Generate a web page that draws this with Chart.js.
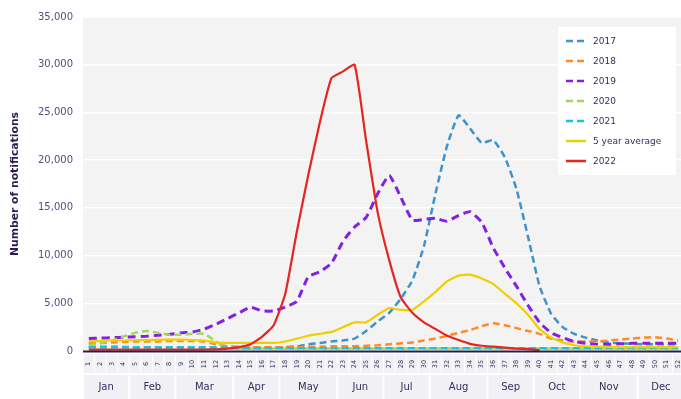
<!DOCTYPE html>
<html><head><meta charset="utf-8">
<script src="https://cdn.jsdelivr.net/npm/chart.js@4.4.0/dist/chart.umd.min.js"></script>
<style>
html,body{margin:0;padding:0;overflow:hidden;background:#fff;width:681px;height:399px}
#wrap{position:relative;width:684px;height:399px}
</style></head><body><div id="wrap"><canvas id="c" width="684" height="399"></canvas></div>
<script>
const weeks = ["1","2","3","4","5","6","7","8","9","10","11","12","13","14","15","16","17","18","19","20","21","22","23","24","25","26","27","28","29","30","31","32","33","34","35","36","37","38","39","40","41","42","43","44","45","46","47","48","49","50","51","52"];
const months = ["Jan","Feb","Mar","Apr","May","Jun","Jul","Aug","Sep","Oct","Nov","Dec"];
const monthFirstWeek = [1,5,9,14,18,23,27,31,36,40,44,49];
const monthLastWeek  = [4,8,13,17,22,26,30,35,39,43,48,52];
const yTicks = [0,5000,10000,15000,20000,25000,30000,35000];

const s2017 = [450,450,450,420,400,400,380,380,380,370,360,350,330,320,320,330,350,400,500,700,850,1000,1100,1300,2100,3100,4000,5500,7400,11000,16500,21500,24700,23300,21800,22100,20300,17000,12000,6800,3900,2500,1800,1400,1100,900,800,750,700,700,700,700];
const s2018 = [800,850,900,950,1000,1000,1000,1050,1050,1050,1000,700,500,450,400,400,400,400,400,450,450,500,500,500,550,600,700,800,900,1100,1300,1600,1900,2200,2600,2900,2700,2400,2100,1800,1300,1100,1000,1000,1000,1100,1200,1300,1400,1450,1300,1100];
const s2019 = [1300,1350,1400,1450,1500,1550,1650,1750,1900,2000,2300,2800,3400,4000,4600,4200,4200,4600,5200,7800,8300,9200,11500,13000,14000,16500,18400,16100,13700,13800,13900,13600,14200,14600,13500,10800,8700,6800,4800,3000,1900,1400,1000,800,700,700,750,800,800,800,800,800];
const s2020 = [600,800,1100,1500,1900,2100,1900,1700,1700,1800,1800,1000,300,250,250,250,250,250,250,250,250,250,250,250,250,250,250,250,250,250,250,250,250,250,250,250,250,250,250,250,250,250,250,250,250,250,250,250,250,250,250,250];
const s2021 = [400,400,400,400,400,400,400,400,400,400,400,400,350,300,300,300,300,300,300,300,300,300,300,300,300,300,300,300,300,300,300,300,300,300,300,300,300,300,300,300,300,300,300,300,300,300,300,300,300,300,300,300];
const s5yr  = [1000,1050,1100,1100,1150,1150,1200,1200,1200,1150,1100,900,850,850,850,850,850,1000,1300,1600,1800,2000,2500,3000,3000,3800,4500,4300,4300,5200,6200,7300,7900,8000,7600,7000,6000,5000,3800,2300,1400,900,600,500,450,400,400,400,400,400,400,400];
const s2022 = [150,150,150,150,150,150,150,150,150,150,150,180,250,400,700,1500,2700,6000,12500,18500,24000,28600,29300,30000,22000,14500,9500,5600,4000,3000,2300,1600,1150,750,550,450,350,250,200,100,null,null,null,null,null,null,null,null,null,null,null,null];

const seriesNames = ["2017","2018","2019","2020","2021","5 year average","2022"];
const seriesColors = ["#3f93cc","#ff8a2a","#8420e3","#a4d65a","#14c6d6","#efcf00","#e52520"];
const seriesData = [s2017,s2018,s2019,s2020,s2021,s5yr,s2022];
const seriesDashed = [true,true,true,true,true,false,false];

const textColor = "#3a2b5e";
const FONT = "'DejaVu Sans', sans-serif";

const datasets = seriesNames.map((n,i)=>({
  label:n, data:seriesData[i], borderColor:seriesColors[i], backgroundColor:seriesColors[i],
  borderWidth: i===2 ? 3 : (seriesDashed[i] ? 2.5 : 2.2),
  borderDash: seriesDashed[i] ? (i===2 ? [8,5] : [7,4]) : [],
  pointRadius:0, tension:0.15, fill:false, spanGaps:false,
  order: 6-i
}));

const deco = {
  id:'deco',
  beforeDraw(chart){
    const {ctx, chartArea:a} = chart;
    const x = chart.scales.x;
    ctx.save();
    ctx.fillStyle = '#f3f3f3';
    ctx.fillRect(a.left, a.top, a.right-a.left, a.bottom-a.top);
    const step = x.getPixelForValue(1) - x.getPixelForValue(0);
    ctx.fillStyle = '#f1f0f4';
    for (let i=0;i<weeks.length;i++){
      const cx = x.getPixelForValue(i);
      ctx.fillRect(cx-step/2+0.5, a.bottom+3, step-1, 19);
    }
    for (let m=0;m<months.length;m++){
      const l = x.getPixelForValue(monthFirstWeek[m]-1) - step/2;
      const r = x.getPixelForValue(monthLastWeek[m]-1) + step/2;
      ctx.fillRect(l+1, a.bottom+24, r-l-2, 30);
    }
    ctx.restore();
  },
  afterDatasetsDraw(chart){
    const {ctx, chartArea:a} = chart;
    const x = chart.scales.x;
    ctx.save();
    ctx.strokeStyle = '#2a1a4d';
    ctx.lineWidth = 2;
    ctx.beginPath(); ctx.moveTo(a.left, a.bottom+0.5); ctx.lineTo(a.right, a.bottom+0.5); ctx.stroke();
    ctx.fillStyle = textColor;
    ctx.font = "6.5px " + FONT;
    ctx.textAlign = 'center'; ctx.textBaseline = 'middle';
    for (let i=0;i<weeks.length;i++){
      const cx = x.getPixelForValue(i);
      ctx.save(); ctx.translate(cx, a.bottom+13); ctx.rotate(-Math.PI/2);
      ctx.fillText(weeks[i], 0, 0); ctx.restore();
    }
    ctx.font = "10px " + FONT;
    for (let m=0;m<months.length;m++){
      const l = x.getPixelForValue(monthFirstWeek[m]-1);
      const r = x.getPixelForValue(monthLastWeek[m]-1);
      ctx.fillText(months[m], (l+r)/2, a.bottom+36);
    }
    const bx = 558, by = 27, bw = 118, bh = 148;
    ctx.fillStyle = '#ffffff';
    ctx.fillRect(bx, by, bw, bh);
    ctx.font = "9px " + FONT;
    ctx.textAlign = 'left';
    chart.data.datasets.forEach((ds,i)=>{
      const yy = by + 14 + i*20;
      ctx.strokeStyle = ds.borderColor;
      ctx.lineWidth = 2.5;
      ctx.setLineDash(seriesDashed[i] ? [7,4] : []);
      ctx.beginPath(); ctx.moveTo(bx+8, yy); ctx.lineTo(bx+28, yy); ctx.stroke();
      ctx.setLineDash([]);
      ctx.fillStyle = textColor;
      ctx.fillText(ds.label, bx+35, yy+0.5);
    });
    ctx.restore();
  }
};

new Chart(document.getElementById('c'), {
  type:'line',
  data:{labels:weeks, datasets},
  options:{
    responsive:false, animation:false, devicePixelRatio:1,
    layout:{padding:{top:17,right:0,left:0,bottom:0}},
    plugins:{legend:{display:false}, tooltip:{enabled:false}},
    scales:{
      x:{
        offset:true,
        grid:{display:false}, border:{display:false},
        ticks:{display:false},
        afterFit(s){ s.height = 48; }
      },
      y:{
        min:0, max:35000,
        afterBuildTicks(s){ s.ticks = yTicks.map(v=>({value:v})); },
        grid:{color:'#ffffff', lineWidth:1.5, drawTicks:false},
        border:{display:false},
        ticks:{color:'#5a4b7e', font:{family:FONT, size:10}, padding:10,
          callback:(v)=>v.toLocaleString('en-US')},
        title:{display:true, text:'Number of notifications', color:'#2e1a52',
          font:{family:FONT, size:10.8, weight:'bold'}, padding:{top:9,bottom:0}},
        afterFit(s){ s.width = 83; }
      }
    }
  },
  plugins:[deco]
});
</script></body></html>
